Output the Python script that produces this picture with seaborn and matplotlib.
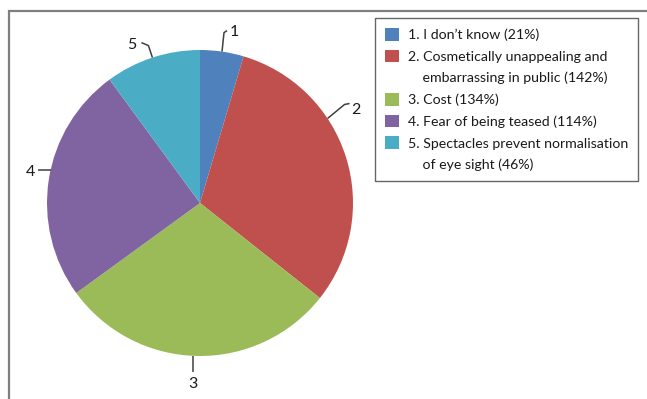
import numpy as np
import matplotlib
matplotlib.use("Agg")
import matplotlib.pyplot as plt
from matplotlib.patches import Rectangle
import seaborn as sns

# Reasons given (count shown in parentheses in the legend)
numbers = ["1", "2", "3", "4", "5"]
reasons = [
    "I don\u2019t know",
    "Cosmetically unappealing and\nembarrassing in public",
    "Cost",
    "Fear of being teased",
    "Spectacles prevent normalisation\nof eye sight",
]
values = [21, 142, 134, 114, 46]
colors = ["#4F81BD", "#C0504D", "#9BBB59", "#8064A2", "#4BACC6"]

sns.set_theme(style="white")
plt.rcParams["font.family"] = ["Lato", "DejaVu Sans"]

W, H = 647, 399
fig = plt.figure(figsize=(W / 100, H / 100), dpi=100)
fig.patch.set_facecolor("white")

# Pie area: radius 153 px centred at (200, 203) px from top-left
R = 153
cx, cy = 200, 203
ax = fig.add_axes([(cx - R) / W, (H - cy - R) / H, 2 * R / W, 2 * R / H])
wedges, _ = ax.pie(values, colors=colors, startangle=90, counterclock=False,
                   radius=1.0, wedgeprops=dict(linewidth=0))
ax.set_xlim(-1, 1)
ax.set_ylim(-1, 1)
ax.set_aspect("equal")
ax.axis("off")

# Outer frame of the chart area
fig.add_artist(Rectangle((9 / W, -0.1), 1.2, 1.1 - 11 / H, transform=fig.transFigure,
                         fill=False, edgecolor="#7f7f7f", linewidth=1.6, clip_on=False))

# Leader lines: angle nudge (deg), elbow and end of line, text centre (px offsets, y up)
angle_nudge = [0, 16, -1.4, -3.5, 0]
elbow = [(2, 19), (17, 14), (0, -8), (-7, 0), (-4, 12)]
line_end = [(5, 21), (22, 15), (0, -16), (-13, 0), (-11, 15)]
text_off = [(12, 20), (28, 8), (0, -28), (-20, -2), (-21, 13)]

total = sum(values)
start = 90.0
px = 1.0 / R
for i, v in enumerate(values):
    sweep = 360.0 * v / total
    mid = start - sweep / 2 + angle_nudge[i]
    start -= sweep
    a = np.deg2rad(mid)
    x0, y0 = np.cos(a), np.sin(a)
    xs = [x0, x0 + elbow[i][0] * px, x0 + line_end[i][0] * px]
    ys = [y0, y0 + elbow[i][1] * px, y0 + line_end[i][1] * px]
    ax.plot(xs, ys, color="#404040", linewidth=1.1, clip_on=False,
            solid_capstyle="butt")
    ax.text(x0 + text_off[i][0] * px, y0 + text_off[i][1] * px, numbers[i],
            ha="center", va="center", fontsize=11.5, color="#1a1a1a", clip_on=False)

# Legend: one row per text line, wrapped lines get an empty handle
handles, labels = [], []
for n, r, v, c in zip(numbers, reasons, values, colors):
    lines = r.split("\n")
    handles.append(Rectangle((0, 0), 1, 1, facecolor=c, edgecolor="none"))
    if len(lines) == 1:
        labels.append(f"{n}. {lines[0]} ({v}%)")
    else:
        labels.append(f"{n}. {lines[0]}")
        handles.append(Rectangle((0, 0), 1, 1, facecolor="none", edgecolor="none"))
        labels.append(f"    {lines[1]} ({v}%)")

leg = fig.legend(handles, labels, loc="upper left",
                 bbox_to_anchor=(375 / W, 1 - 18 / H), bbox_transform=fig.transFigure,
                 frameon=True, fancybox=False, shadow=False, borderaxespad=0,
                 fontsize=10.2, handlelength=1.0, handleheight=1.0,
                 handletextpad=0.6, labelspacing=0.6, borderpad=0.7)
leg.get_frame().set_edgecolor("#404040")
leg.get_frame().set_linewidth(1.0)
for t in leg.get_texts():
    t.set_color("#1a1a1a")

fig.savefig("out.png", dpi=100, facecolor="white")
